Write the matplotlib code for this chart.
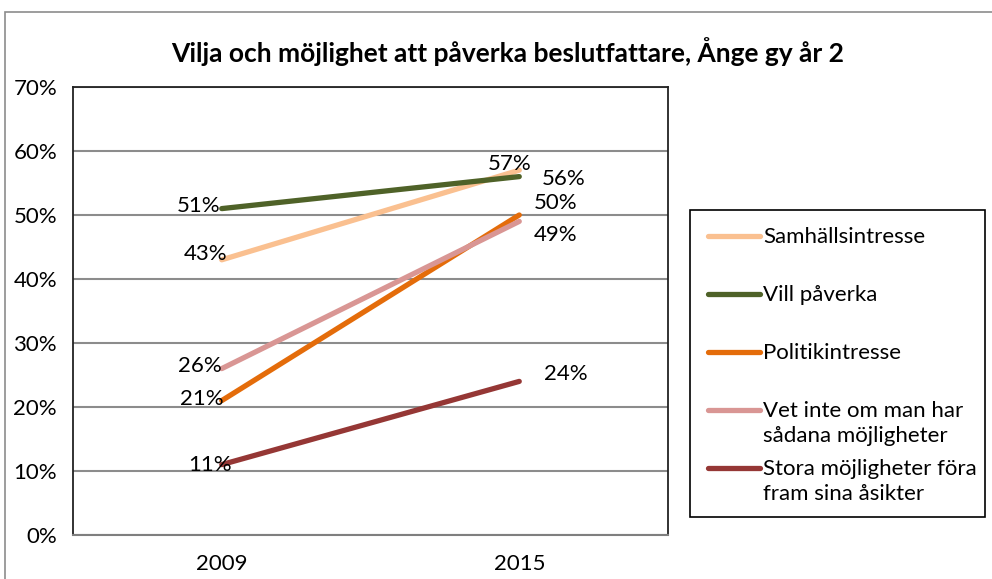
import matplotlib
matplotlib.use("Agg")
import matplotlib.pyplot as plt
from matplotlib.lines import Line2D
from matplotlib.patches import Rectangle

plt.rcParams['font.family'] = ['Lato', 'DejaVu Sans']

years = ["2009", "2015"]
series_names = ["Samhällsintresse", "Vill påverka", "Politikintresse",
                "Vet inte om man har\nsådana möjligheter",
                "Stora möjligheter föra\nfram sina åsikter"]
samhall = [43, 57]
vill = [51, 56]
politik = [21, 50]
vet_inte = [26, 49]
stora = [11, 24]
values = [samhall, vill, politik, vet_inte, stora]
colors = ["#FAC090", "#4F6228", "#E46C0A", "#D99694", "#953735"]
yticks = [0, 10, 20, 30, 40, 50, 60, 70]
title = "Vilja och möjlighet att påverka beslutfattare, Ånge gy år 2"

# label offsets in pixels: (dx, dy, ha)
offsets = [
    [(6, 6, 'right'), (-10, 6, 'center')],
    [(-1, 3, 'right'), (23, -2, 'left')],
    [(2, 2, 'right'), (15, 12, 'left')],
    [(0, 3, 'right'), (15, -14, 'left')],
    [(10, 0, 'right'), (25, 7, 'left')],
]

FS = 16
W, H = 992, 579
fig = plt.figure(figsize=(W / 100, H / 100), dpi=100)
ax = fig.add_axes([73 / W, 1 - 535 / H, (668 - 73) / W, (535 - 87) / H])

x = list(range(len(years)))
for vals, col, name, offs in zip(values, colors, series_names, offsets):
    ax.plot(x, vals, color=col, lw=3.8, solid_capstyle='round', label=name, zorder=3)
    for xi, v, (dx, dy, ha) in zip(x, vals, offs):
        ax.annotate(f"{v}%", xy=(xi, v), xytext=(dx, dy), textcoords='offset pixels',
                    ha=ha, va='center', fontsize=FS, color='black', zorder=4)

ax.set_xlim(-0.5, 1.5)
ax.set_ylim(0, 70)
ax.set_xticks(x)
ax.set_xticklabels(years, fontsize=FS)
ax.set_yticks(yticks)
ax.set_yticklabels([f"{t}%" for t in yticks], fontsize=FS)
ax.tick_params(axis='both', length=0)
ax.tick_params(axis='y', pad=11.5)
ax.tick_params(axis='x', pad=14)
ax.grid(axis='y', color='#8c8c8c', lw=1.5, zorder=1)
for s in ['top', 'left', 'right']:
    ax.spines[s].set_color('#222222')
    ax.spines[s].set_linewidth(1.3)
ax.spines['bottom'].set_color('#7f7f7f')
ax.spines['bottom'].set_linewidth(1.5)

fig.text(508 / W, 1 - 52 / H, title, ha='center', va='center', fontsize=19, fontweight='bold')

# outer chart frame
fig.patches.append(Rectangle((5 / W, -0.1), 1.2, 1 - 12 / H + 0.1, transform=fig.transFigure,
                             fill=False, edgecolor='#8c8c8c', lw=1.2))

# manual legend (handles aligned with first text line)
fig.patches.append(Rectangle((690 / W, 1 - 517 / H), (985 - 690) / W, (517 - 210) / H,
                             transform=fig.transFigure, fill=False, edgecolor='black', lw=1.2))
leg_y = [236, 294, 352, 410, 468]
for yy, col, name in zip(leg_y, colors, series_names):
    fig.lines.append(Line2D([708 / W, 760 / W], [1 - yy / H, 1 - yy / H], transform=fig.transFigure,
                            color=col, lw=3.8, solid_capstyle='round'))
    fig.text(763 / W, 1 - (yy - 9) / H, name, ha='left', va='top', fontsize=FS,
             linespacing=1.3)

fig.savefig("out.png", dpi=100)
